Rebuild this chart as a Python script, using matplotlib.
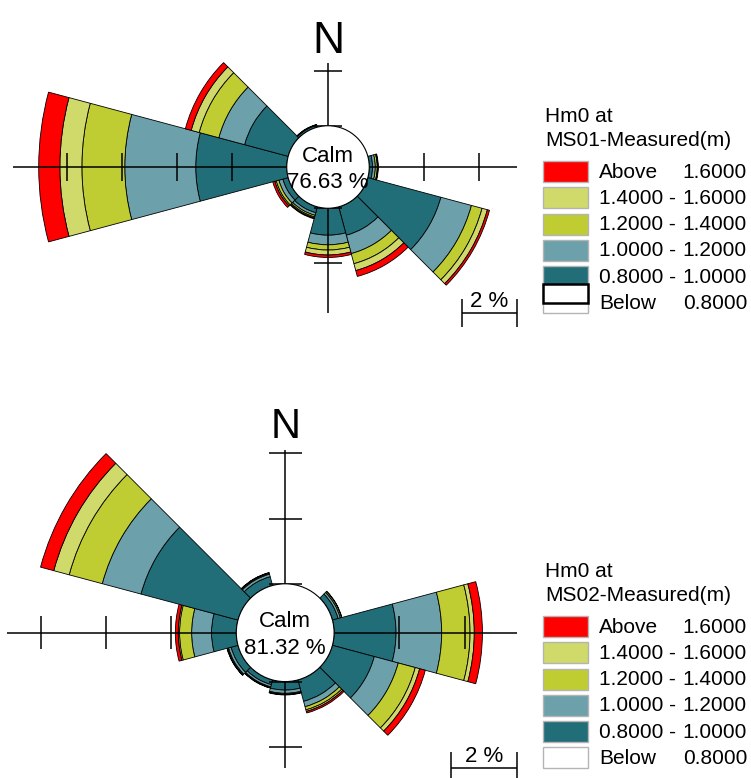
import matplotlib
matplotlib.use("Agg")
import matplotlib.pyplot as plt
from matplotlib.patches import Wedge, Circle, Rectangle

plt.rcParams['font.family'] = ['Liberation Sans', 'DejaVu Sans']

# direction sectors, degrees clockwise from north, 30 deg wide
directions = [0, 30, 60, 90, 120, 150, 180, 210, 240, 270, 300, 330]

band_colors = ['#226e78', '#6ca1ab', '#bfcd32', '#d0da6a', '#ff0000']
legend_colors = ['#ff0000', '#d0da6a', '#bfcd32', '#6ca1ab', '#226e78', 'white']
legend_left = ['Above', '1.4000 -', '1.2000 -', '1.0000 -', '0.8000 -', 'Below']
legend_right = ['1.6000', '1.6000', '1.4000', '1.2000', '1.0000', '0.8000']

# MS01 - frequency (%) per Hm0 class and direction
ms01_080_100 = [0, 0, 0, 0.12, 2.75, 1.07, 0.98, 0.22, 0.20, 3.31, 1.64, 0.07]
ms01_100_120 = [0, 0, 0, 0.10, 1.15, 0.69, 0.35, 0.10, 0.15, 2.58, 0.97, 0.02]
ms01_120_140 = [0, 0, 0, 0.07, 0.40, 0.38, 0.19, 0.06, 0.10, 1.56, 0.74, 0.01]
ms01_140_160 = [0, 0, 0, 0.02, 0.20, 0.26, 0.18, 0.04, 0.05, 0.80, 0.30, 0.00]
ms01_above_160 = [0, 0, 0, 0.02, 0.08, 0.22, 0.09, 0.03, 0.08, 0.77, 0.22, 0.00]
ms01_calm = 76.63

# MS02
ms02_080_100 = [0, 0, 0.18, 1.90, 1.33, 0.68, 0.26, 0.15, 0.22, 0.76, 3.08, 0.28]
ms02_100_120 = [0, 0, 0.07, 1.40, 0.76, 0.17, 0.10, 0.07, 0.08, 0.61, 1.23, 0.08]
ms02_120_140 = [0, 0, 0.04, 0.87, 0.54, 0.10, 0.03, 0.02, 0.03, 0.37, 1.05, 0.03]
ms02_140_160 = [0, 0, 0.01, 0.13, 0.14, 0.05, 0.01, 0.01, 0.01, 0.04, 0.49, 0.01]
ms02_above_160 = [0, 0, 0.00, 0.25, 0.18, 0.05, 0.01, 0.01, 0.01, 0.09, 0.42, 0.01]
ms02_calm = 81.32

W, H = 751, 778
CALM_R = 1.5  # calm circle radius, in % units

fig = plt.figure(figsize=(W / 100, H / 100), dpi=100)


def rose_axes(box, center, scale):
    x0, y0, x1, y1 = box
    cx, cy = center
    ax = fig.add_axes([x0 / W, 1 - y1 / H, (x1 - x0) / W, (y1 - y0) / H])
    ax.set_xlim((x0 - cx) / scale, (x1 - cx) / scale)
    ax.set_ylim((cy - y1) / scale, (cy - y0) / scale)
    ax.axis('off')
    return ax


def draw_rose(ax, bands, calm, ext, n_size):
    up, down, left, right = ext
    for i, d in enumerate(directions):
        base = CALM_R
        for vals, col in zip(bands, band_colors):
            v = vals[i]
            if v <= 0:
                continue
            ax.add_patch(Wedge((0, 0), base + v, 90 - d - 15, 90 - d + 15, width=v,
                               facecolor=col, edgecolor='black', linewidth=0.6, zorder=2))
            base += v

    lk = dict(color='black', lw=1.1, zorder=3, solid_capstyle='butt', clip_on=False)
    ax.plot([-left, right], [0, 0], **lk)
    ax.plot([0, 0], [-down, up], **lk)
    tl = 0.5
    r = CALM_R + 2
    while r <= left:
        ax.plot([-r, -r], [-tl, tl], **lk)
        r += 2
    r = CALM_R + 2
    while r <= right:
        ax.plot([r, r], [-tl, tl], **lk)
        r += 2
    r = CALM_R
    while r <= up:
        ax.plot([-tl, tl], [r, r], **lk)
        r += 2
    r = CALM_R
    while r <= down:
        ax.plot([-tl, tl], [-r, -r], **lk)
        r += 2

    ax.add_patch(Circle((0, 0), CALM_R, facecolor='white', edgecolor='black', lw=0.8, zorder=4))
    ax.annotate('Calm', (0, 0), xytext=(0, 5.5), textcoords='offset pixels',
                ha='center', va='baseline', fontsize=16, zorder=5)
    ax.annotate(f'{calm:.2f} %', (0, 0), xytext=(0, -21), textcoords='offset pixels',
                ha='center', va='baseline', fontsize=16, zorder=5)
    ax.text(0, up + 0.37, 'N', ha='center', va='baseline', fontsize=n_size)

    # scale bar
    x0 = right - 2
    yb = -down
    ax.plot([x0, right], [yb, yb], **lk)
    ax.plot([x0, x0], [yb - tl, yb + tl], **lk)
    ax.plot([right, right], [yb - tl, yb + tl], **lk)
    ax.annotate('2 %', ((x0 + right) / 2, yb), xytext=(0, 6), textcoords='offset pixels',
                ha='center', va='baseline', fontsize=16)


ax1 = rose_axes((0, 0, 535, 345), (328, 167), 27.5)
draw_rose(ax1, [ms01_080_100, ms01_100_120, ms01_120_140, ms01_140_160, ms01_above_160],
          ms01_calm, (3.78, 5.31, 11.45, 6.87), 32)

ax2 = rose_axes((0, 390, 535, 778), (285.2, 632.7), 32.6)
draw_rose(ax2, [ms02_080_100, ms02_100_120, ms02_120_140, ms02_140_160, ms02_above_160],
          ms02_calm, (5.60, 4.16, 8.52, 7.10), 30)

# legends, drawn in pixel coordinates
leg = fig.add_axes([0, 0, 1, 1])
leg.set_xlim(0, W)
leg.set_ylim(H, 0)
leg.axis('off')


def draw_legend(station, first_row, glitch=False):
    step = 26.2
    fs = 15
    leg.text(545, first_row - 50, 'Hm0 at', fontsize=fs, va='baseline')
    leg.text(545, first_row - 26, f'{station}-Measured(m)', fontsize=fs, va='baseline')
    for k, (col, lt, rt) in enumerate(zip(legend_colors, legend_left, legend_right)):
        yc = first_row + k * step
        leg.add_patch(Rectangle((543, yc - 10.5), 45, 21, facecolor=col,
                                edgecolor='#b4b4b4', lw=1))
        leg.text(599, yc + 6, lt, fontsize=fs, va='baseline')
        leg.text(747, yc + 6, rt, fontsize=fs, va='baseline', ha='right')
    if glitch:
        yc = first_row + 5 * step
        leg.add_patch(Rectangle((543, yc - 18.5), 45, 19, facecolor='white',
                                edgecolor='black', lw=1.8))


draw_legend('MS01', 171.7, glitch=True)
draw_legend('MS02', 626.7)

fig.savefig('out.png', dpi=100)
